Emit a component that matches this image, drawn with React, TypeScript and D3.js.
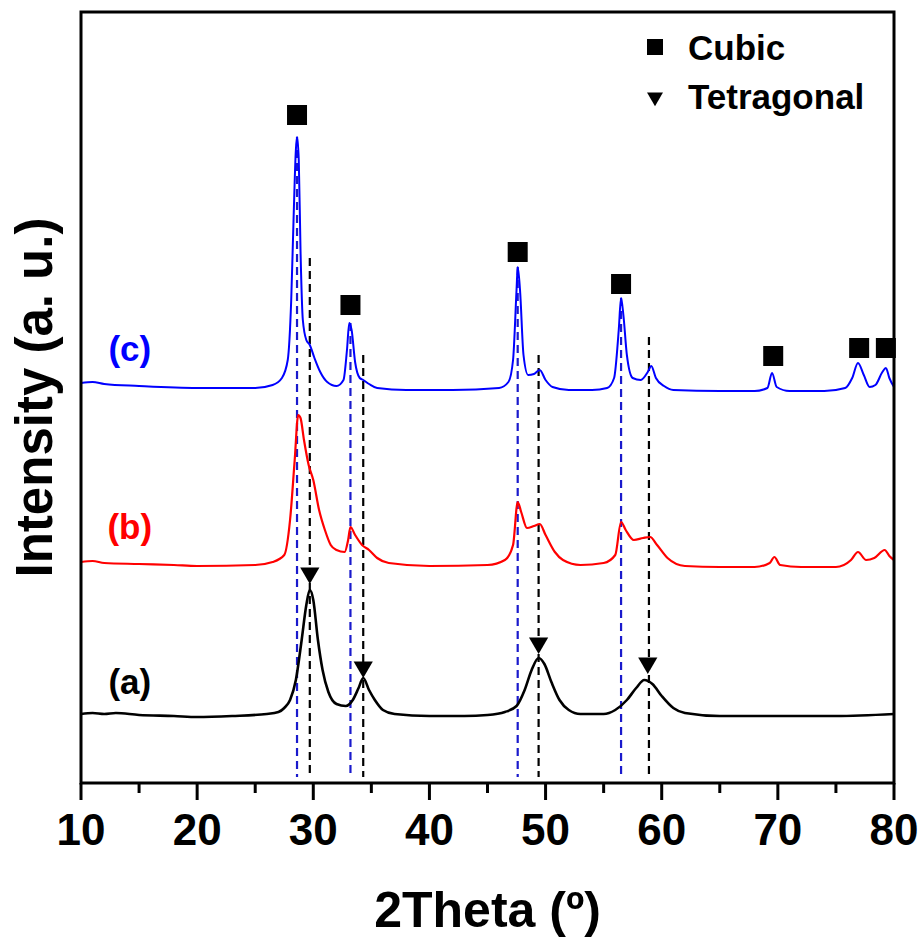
import React from "react";
import * as d3 from "d3";

// 2θ positions and intensities (arbitrary units, stacked)
const seriesA: [number, number][] = [
  [10, 69], [11, 70], [12, 69], [13, 70], [15, 68], [18, 67], [20, 66], [23, 67], [26, 69], [27, 71], [27.5, 75], [28, 83],
  [28.5, 103], [29, 143], [29.4, 178], [29.7, 193], [30.0, 183], [30.4, 143], [30.8, 113], [31.3, 91],
  [32, 79], [32.8, 77], [33.4, 83], [33.9, 95], [34.3, 105], [34.8, 93], [35.3, 83], [36, 73], [37, 69],
  [40, 67], [43, 67], [45, 68], [46.5, 71], [47.5, 77], [48.2, 93], [48.8, 113], [49.4, 125], [49.9, 119],
  [50.5, 101], [51.2, 83], [52, 73], [53, 69], [55, 69], [56, 73], [57, 83], [57.8, 95], [58.5, 103],
  [59.2, 99], [60, 87], [61, 75], [62, 70], [65, 67], [70, 67], [75, 67], [80, 69],
];

const seriesB: [number, number][] = [
  [10, 221], [11, 222], [12, 220], [15, 219], [18, 218], [20, 217], [25, 218], [26.5, 221], [27.5, 228], [28.0, 263],
  [28.4, 323], [28.7, 368], [28.9, 365], [29.2, 343], [29.6, 318], [30.0, 303], [30.5, 273], [31, 253],
  [31.5, 238], [32, 233], [32.7, 231], [33.0, 243], [33.2, 256], [33.6, 248], [34.2, 238], [34.8, 233],
  [35.5, 225], [36.5, 220], [40, 217], [45, 218], [46.5, 223], [47.2, 238], [47.6, 281], [47.9, 271],
  [48.4, 255], [49.0, 257], [49.5, 259], [50.0, 248], [50.8, 231], [51.5, 223], [53, 218], [55, 220],
  [56, 228], [56.5, 261], [56.9, 253], [57.6, 243], [58.4, 245], [59.0, 246], [59.6, 238], [60.5, 225],
  [62, 217], [65, 216], [68, 216], [69.3, 220], [69.7, 226], [70.2, 218], [72, 216], [75, 216], [76.3, 223],
  [76.9, 231], [77.6, 223], [78.3, 225], [79.2, 233], [79.6, 227], [80, 223],
];

const seriesC: [number, number][] = [
  [10, 400], [11, 401], [12, 399], [15, 397], [20, 395], [25, 395], [26.5, 398], [27.3, 405], [27.8, 423], [28.1, 483],
  [28.3, 563], [28.5, 633], [28.6, 646], [28.75, 623], [28.9, 533], [29.1, 463], [29.4, 443], [29.7, 438],
  [30.1, 425], [30.6, 411], [31.2, 401], [32, 397], [32.6, 403], [32.9, 433], [33.1, 460], [33.3, 453],
  [33.6, 421], [34.0, 405], [34.3, 403], [34.8, 399], [35.5, 395], [38, 393], [42, 393], [46, 395],
  [46.8, 401], [47.2, 423], [47.5, 493], [47.6, 516], [47.8, 493], [48.1, 428], [48.5, 408], [49.0, 409],
  [49.5, 413], [50.0, 403], [50.6, 396], [52, 393], [54, 393], [55.3, 395], [55.9, 405], [56.3, 453],
  [56.5, 485], [56.7, 468], [57.0, 428], [57.5, 405], [58.2, 403], [58.8, 411], [59.1, 417], [59.5, 405],
  [60.2, 397], [61, 393], [65, 392], [68, 392], [69.1, 395], [69.5, 410], [69.9, 396], [71, 392], [74, 392],
  [75.8, 395], [76.4, 405], [76.9, 420], [77.4, 408], [77.9, 396], [78.4, 398], [79.0, 411], [79.3, 415],
  [79.6, 405], [80, 396],
];

const seriesLabels = ["(a)", "(b)", "(c)"];
const labelPos: [number, number][] = [[14.2, 98], [14.2, 253], [14.2, 431]];

const cubicX = [28.6, 33.2, 47.6, 56.5, 69.6, 77.0, 79.3];
const cubicY = [668, 478, 531, 499, 427, 435, 435];
const tetraX = [29.7, 34.3, 49.4, 58.8];
const tetraY = [210, 116, 140, 120];

const cubicRefX = [28.6, 33.2, 47.6, 56.5];
const cubicRefTop = [646, 460, 516, 485];
const tetraRefX = [29.7, 34.3, 49.4, 58.9];
const tetraRefTop = [525, 428, 428, 446];

const xTicks = [10, 20, 30, 40, 50, 60, 70, 80];
const xMinor = [15, 25, 35, 45, 55, 65, 75];

const W = 923;
const H = 942;
const left = 81, right = 894, top = 12, bottom = 783;
const FONT = "'Liberation Sans', Arial, sans-serif";

export default function App() {
  const x = d3.scaleLinear().domain([10, 80]).range([left, right]);
  const y = d3.scaleLinear().domain([0, 771]).range([bottom, top]);
  const line = d3
    .line<[number, number]>()
    .x((d) => x(d[0]))
    .y((d) => y(d[1]))
    .curve(d3.curveMonotoneX);

  const colors = ["#000000", "#ff0000", "#0000ff"];
  const widths = [2.6, 2.2, 2.0];
  const series = [seriesA, seriesB, seriesC];
  const tri = d3.symbol().type(d3.symbolTriangle).size(160)();

  return (
    <svg
      width={W}
      height={H}
      style={{ position: "absolute", left: 0, top: 0, background: "#fff" }}
      fontFamily={FONT}
    >
      <rect x={0} y={0} width={W} height={H} fill="#fff" />
      <defs>
        <clipPath id="plotClip">
          <rect x={left} y={top} width={right - left} height={bottom - top} />
        </clipPath>
      </defs>

      {/* reference dashed lines */}
      {cubicRefX.map((v, i) => (
        <line
          key={"cr" + i}
          x1={x(v)}
          x2={x(v)}
          y1={y(cubicRefTop[i])}
          y2={y(6)}
          stroke="#1a1acc"
          strokeWidth={2.2}
          strokeDasharray="8,5"
        />
      ))}
      {tetraRefX.map((v, i) => (
        <line
          key={"tr" + i}
          x1={x(v)}
          x2={x(v)}
          y1={y(tetraRefTop[i])}
          y2={y(6)}
          stroke="#000"
          strokeWidth={2.2}
          strokeDasharray="8,5"
        />
      ))}

      {/* traces */}
      <g clipPath="url(#plotClip)">
        {series.map((s, i) => (
          <path key={i} d={line(s) || ""} fill="none" stroke={colors[i]} strokeWidth={widths[i]} />
        ))}
      </g>

      {/* markers */}
      {cubicX.map((v, i) => (
        <rect key={"cm" + i} x={x(v) - 10} y={y(cubicY[i]) - 10} width={20} height={20} fill="#000" />
      ))}
      {tetraX.map((v, i) => (
        <path
          key={"tm" + i}
          d={tri || ""}
          transform={`translate(${x(v)},${y(tetraY[i])}) rotate(180)`}
          fill="#000"
        />
      ))}

      {/* series labels */}
      {seriesLabels.map((t, i) => (
        <text
          key={t}
          x={x(labelPos[i][0])}
          y={y(labelPos[i][1])}
          fill={colors[i]}
          fontSize={35}
          fontWeight="bold"
          textAnchor="middle"
          dominantBaseline="middle"
        >
          {t}
        </text>
      ))}

      {/* legend */}
      <rect x={647} y={39} width={16} height={16} fill="#000" />
      <text x={688} y={60} fontSize={35} fontWeight="bold" fill="#000">
        Cubic
      </text>
      <path
        d={d3.symbol().type(d3.symbolTriangle).size(110)() || ""}
        transform="translate(655,97) rotate(180)"
        fill="#000"
      />
      <text x={688} y={109} fontSize={35} fontWeight="bold" fill="#000">
        Tetragonal
      </text>

      {/* frame */}
      <rect
        x={left}
        y={top}
        width={right - left}
        height={bottom - top}
        fill="none"
        stroke="#000"
        strokeWidth={3}
      />

      {/* x ticks */}
      {xTicks.map((t) => (
        <g key={"t" + t}>
          <line x1={x(t)} x2={x(t)} y1={bottom} y2={bottom + 17} stroke="#000" strokeWidth={3} />
          <text x={x(t)} y={845} fontSize={44} fontWeight="bold" textAnchor="middle" fill="#000">
            {t}
          </text>
        </g>
      ))}
      {xMinor.map((t) => (
        <line key={"m" + t} x1={x(t)} x2={x(t)} y1={bottom} y2={bottom + 10} stroke="#000" strokeWidth={3} />
      ))}

      {/* axis titles */}
      <text
        x={(left + right) / 2}
        y={927}
        fontSize={50}
        fontWeight="bold"
        textAnchor="middle"
        fill="#000"
      >
        2Theta (º)
      </text>
      <text
        transform={`translate(52,${(top + bottom) / 2}) rotate(-90)`}
        fontSize={51}
        fontWeight="bold"
        textAnchor="middle"
        fill="#000"
      >
        Intensity (a. u.)
      </text>
    </svg>
  );
}
